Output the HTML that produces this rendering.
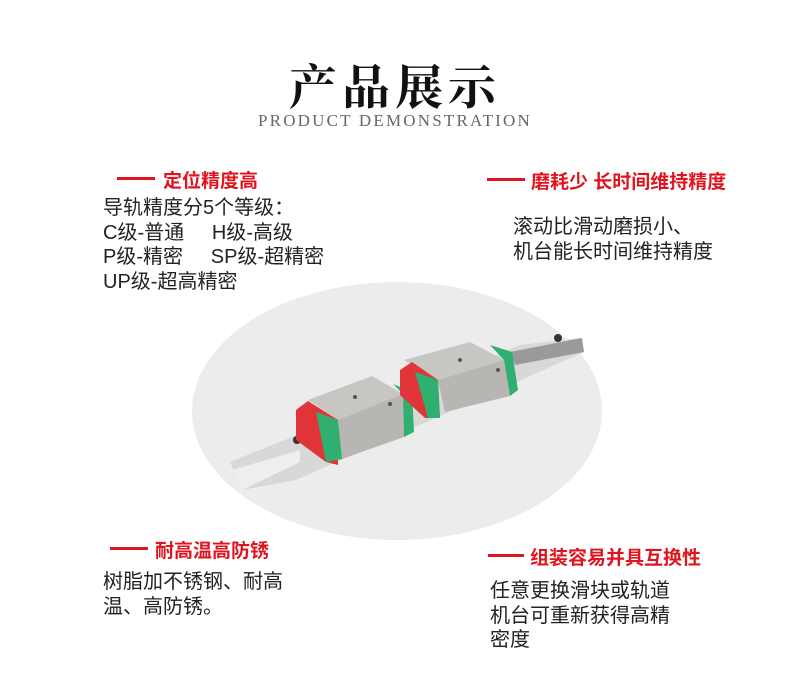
<!DOCTYPE html>
<html><head><meta charset="utf-8"><style>
body{margin:0;width:790px;height:700px;background:#fff;position:relative;overflow:hidden;font-family:"Liberation Sans","Noto Sans CJK SC",sans-serif;color:#222}
.a{position:absolute;white-space:nowrap}
.h{font-size:19px;font-weight:bold;color:#e0141e}
.ln{position:absolute;height:3px;background:#e0141e}
.t{font-size:20px;line-height:24.5px;color:#222}
</style></head><body>
<div class="a" style="left:0;width:790px;top:49px;text-align:center;font-family:'Noto Serif CJK SC',serif;font-size:48px;font-weight:bold;letter-spacing:5px;color:#111">产品展示</div>
<div class="a" style="left:0;width:790px;top:111px;text-align:center;font-family:'Liberation Serif',serif;font-size:17px;letter-spacing:2.2px;color:#666">PRODUCT DEMONSTRATION</div>

<div class="ln" style="left:117px;top:177px;width:38px"></div>
<div class="a h" style="left:163px;top:166px">定位精度高</div>
<div class="a t" style="left:103px;top:196px">导轨精度分5个等级：<br>C级-普通&nbsp;&nbsp;&nbsp;&nbsp; H级-高级<br>P级-精密&nbsp;&nbsp;&nbsp;&nbsp; SP级-超精密<br>UP级-超高精密</div>

<div class="ln" style="left:487px;top:178px;width:38px"></div>
<div class="a h" style="left:531px;top:167px">磨耗少 长时间维持精度</div>
<div class="a t" style="left:513px;top:215px">滚动比滑动磨损小、<br>机台能长时间维持精度</div>

<div class="ln" style="left:110px;top:547px;width:38px"></div>
<div class="a h" style="left:155px;top:536px">耐高温高防锈</div>
<div class="a t" style="left:103px;top:570px">树脂加不锈钢、耐高<br>温、高防锈。</div>

<div class="ln" style="left:488px;top:554px;width:36px"></div>
<div class="a h" style="left:530px;top:543px">组装容易并具互换性</div>
<div class="a t" style="left:490px;top:579px">任意更换滑块或轨道<br>机台可重新获得高精<br>密度</div>

<svg class="a" style="left:0;top:0" width="790" height="700">
<ellipse cx="397" cy="411" rx="205" ry="129" fill="#ececec"/>
<polygon points="230,462 520,345 580,338 584,352 296,480 242,490" fill="#d8d8d8"/>
<polygon points="232,470 300,450 300,462 242,490" fill="#eeeeee"/>
<polygon points="510,352 582,338 584,352 515,365" fill="#9a9a9a"/>
<circle cx="558" cy="338" r="4" fill="#333"/>
<circle cx="297" cy="440" r="4" fill="#333"/>
<polygon points="308,400 372,376 403,394 338,420" fill="#c8c6c2"/>
<polygon points="338,420 403,394 404,437 342,459" fill="#b8b6b2"/>
<polygon points="296,410 308,401 338,420 338,465 326,462 296,440" fill="#e03438"/>
<polygon points="316,412 338,420 342,459 326,462" fill="#2fb070"/>
<polygon points="393,384 403,394 404,437 414,432 412,392" fill="#2fb070"/>
<polygon points="404,360 470,342 504,360 438,380" fill="#c8c6c2"/>
<polygon points="438,380 504,360 510,396 445,412" fill="#b8b6b2"/>
<polygon points="400,370 412,362 438,380 440,418 425,418 400,395" fill="#e03438"/>
<polygon points="415,372 438,380 440,418 428,418" fill="#2fb070"/>
<polygon points="490,345 504,360 510,396 518,390 512,352" fill="#2fb070"/>
<circle cx="355" cy="397" r="2" fill="#555"/><circle cx="390" cy="404" r="2" fill="#555"/>
<circle cx="460" cy="360" r="2" fill="#555"/><circle cx="498" cy="370" r="2" fill="#555"/>
</svg>
</body></html>
